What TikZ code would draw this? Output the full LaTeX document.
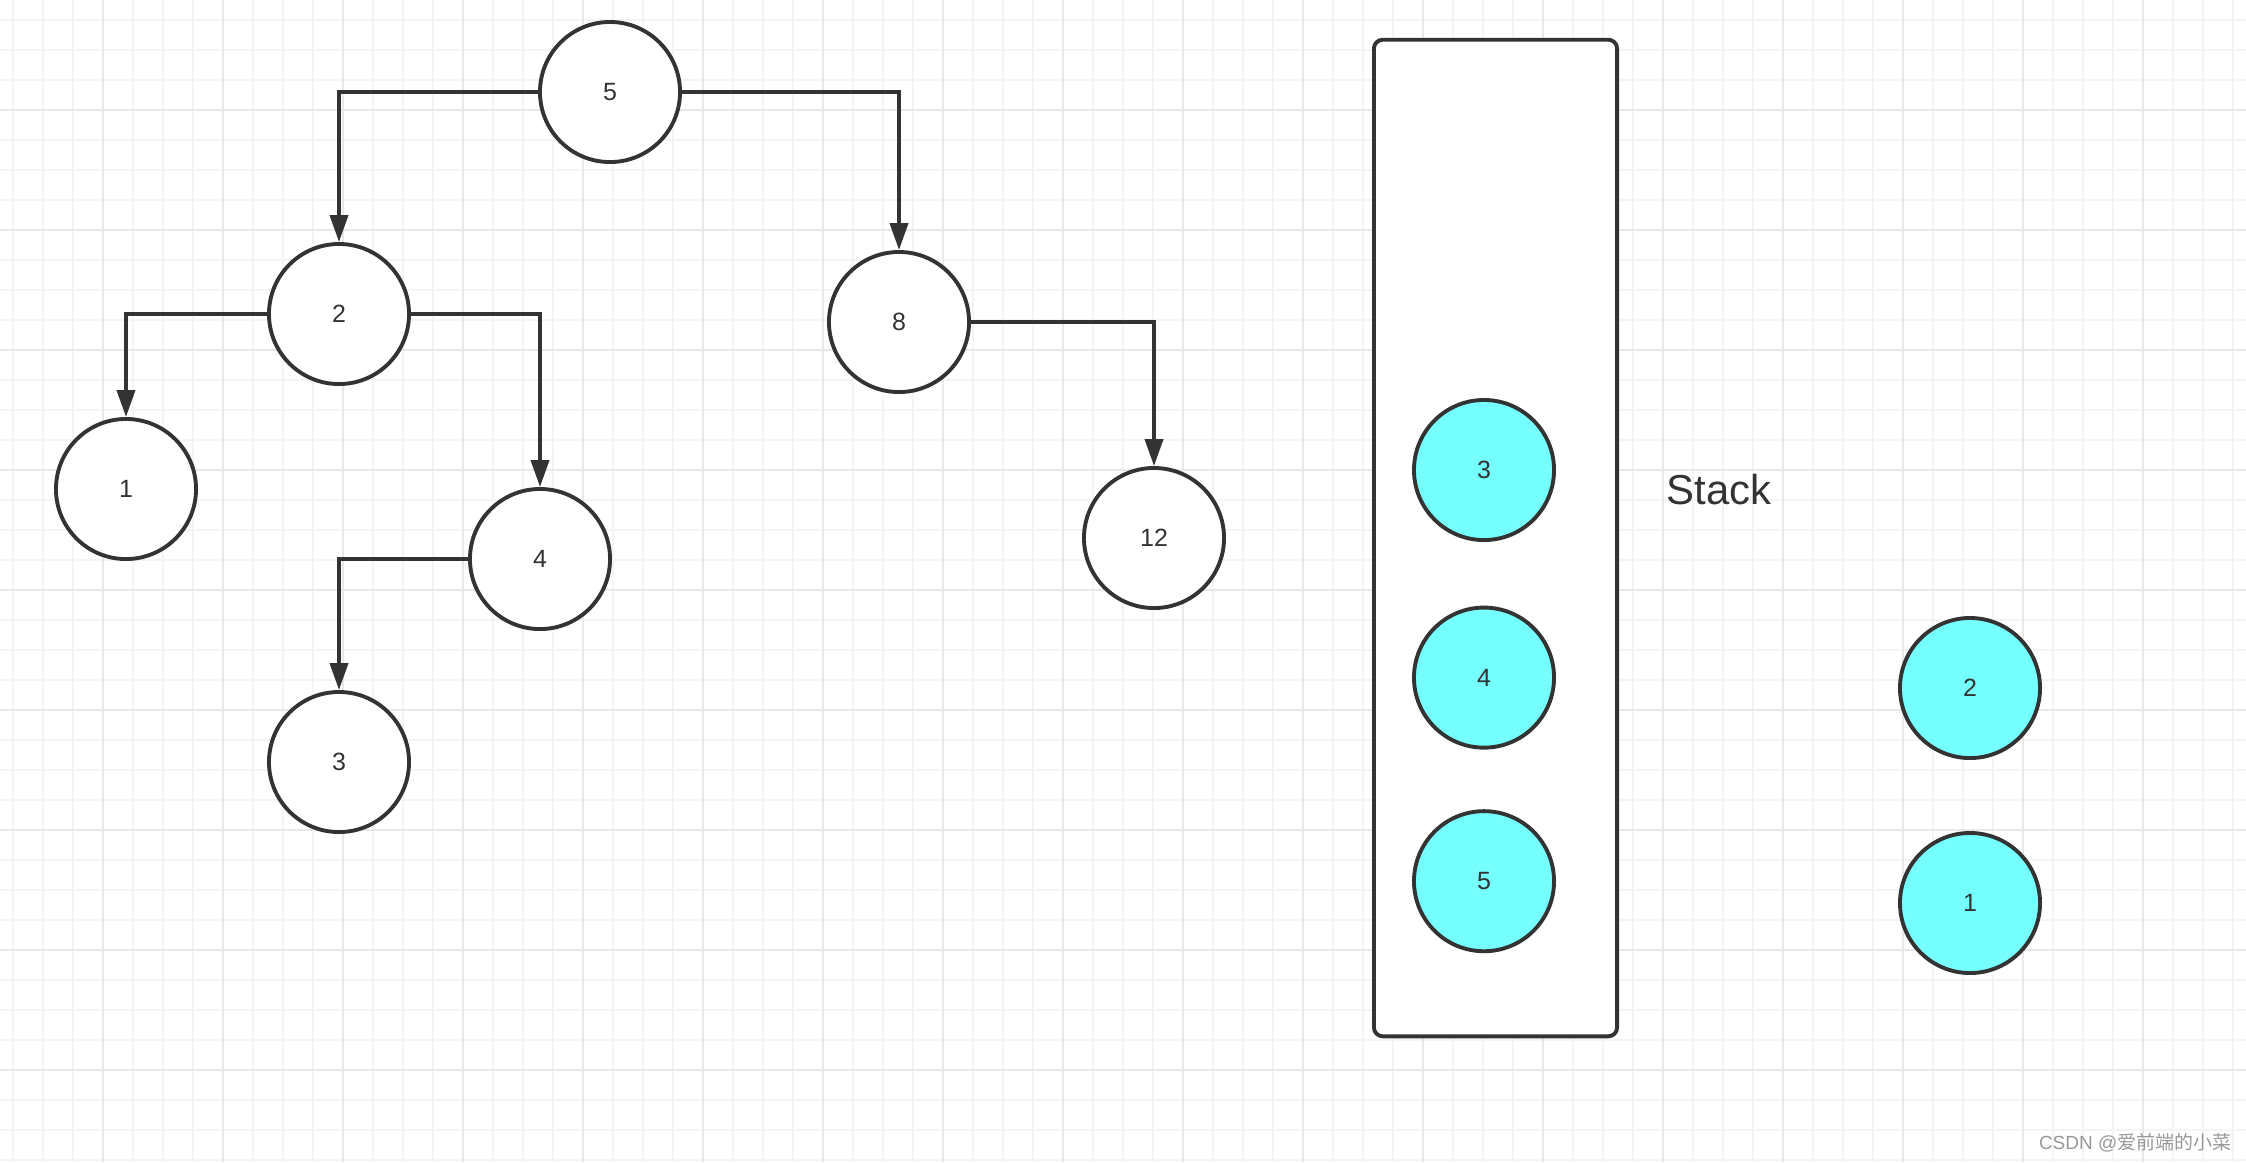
\documentclass[tikz,border=0pt]{standalone}
\usepackage{fontspec}
\setmainfont{Liberation Sans}
\newfontfamily\cjk{Noto Sans CJK SC}
\usetikzlibrary{arrows.meta, positioning}
\definecolor{inkgray}{HTML}{333333}
\definecolor{stackcyan}{HTML}{75FFFF}
\definecolor{gridminor}{HTML}{F4F4F4}
\definecolor{gridmajor}{HTML}{E8E8E8}
\tikzset{
  treenode/.style={circle, draw=inkgray, line width=1.1pt, fill=white, minimum size=1.40cm, inner sep=0pt, text=inkgray, font=\fontsize{7.1}{8}\selectfont},
  stacknode/.style={treenode, fill=stackcyan},
  stackbox/.style={rectangle, rounded corners=2.5pt, draw=inkgray, line width=1.1pt, fill=white, minimum width=2.43cm, minimum height=9.96cm},
  treearr/.style={draw=inkgray, line width=1.1pt, -{Triangle[length=2.7mm, width=1.8mm]}},
}

\begin{document}
\begin{tikzpicture}[x=0.01cm, y=-0.01cm]
\useasboundingbox (0,0) rectangle (2246,1162);
\fill[white] (0,0) rectangle (2246,1162);
% background grid
\foreach \gx in {13,43,...,2246} \draw[gridminor, line width=0.6pt] (\gx,0) -- (\gx,1162);
\foreach \gy in {20,50,...,1162} \draw[gridminor, line width=0.6pt] (0,\gy) -- (2246,\gy);
\foreach \gx in {103,223,...,2246} \draw[gridmajor, line width=0.6pt] (\gx,0) -- (\gx,1162);
\foreach \gy in {110,230,...,1162} \draw[gridmajor, line width=0.6pt] (0,\gy) -- (2246,\gy);

% tree
\node[treenode] (t5) at (610,92) {5};
\node[treenode] (t2) at (339,314) {2};
\node[treenode] (t8) at (899,322) {8};
\node[treenode] (t1) at (126,489) {1};
\node[treenode] (t4) at (540,559) {4};
\node[treenode] (t3) at (339,762) {3};
\node[treenode] (t12) at (1154,538) {12};
\draw[treearr] (t5.west) -| (t2.north);
\draw[treearr] (t5.east) -| (t8.north);
\draw[treearr] (t2.west) -| (t1.north);
\draw[treearr] (t2.east) -| (t4.north);
\draw[treearr] (t4.west) -| (t3.north);
\draw[treearr] (t8.east) -| (t12.north);

% stack
\node[stackbox] (stack) at (1495.5,538) {};
\node[stacknode] (s3) at (1484,470) {3};
\node[stacknode, below=0.636cm of s3] (s4) {4};
\node[stacknode, below=0.596cm of s4] (s5) {5};
\node[text=inkgray, font=\fontsize{11.9}{14}\selectfont] (stacklabel) at (1719,490) {Stack};

% popped
\node[stacknode] (p2) at (1970,688) {2};
\node[stacknode, below=0.71cm of p2] (p1) {1};

\node[text=gray!80, font=\fontsize{5.4}{7}\selectfont, anchor=east, inner sep=0pt] (mark) at (2232,1143) {CSDN @{\cjk 爱前端的小菜}};
\end{tikzpicture}
\end{document}
